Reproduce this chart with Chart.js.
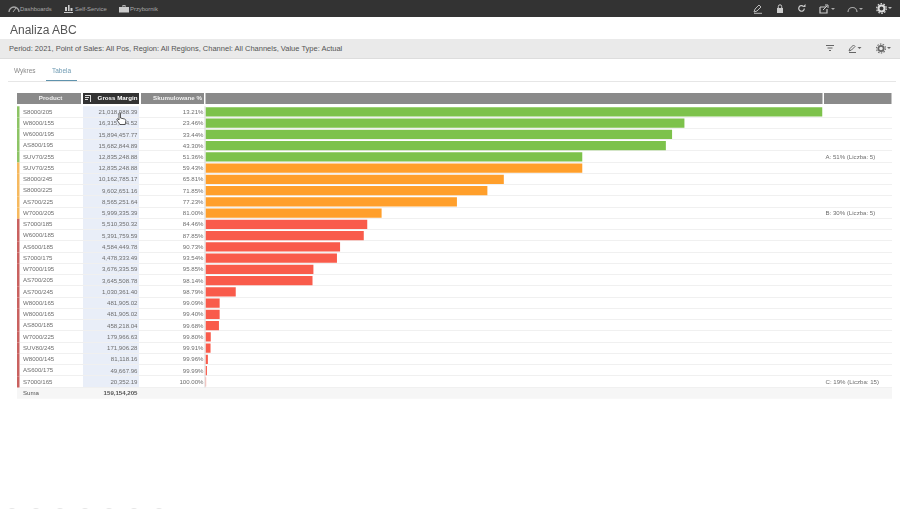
<!DOCTYPE html>
<html>
<head>
<meta charset="utf-8">
<title>Analiza ABC</title>
<script src="https://cdn.jsdelivr.net/npm/chart.js@4/dist/chart.umd.min.js"></script>
<style>
html, body { margin: 0; padding: 0; background: #fff; overflow: hidden; }
body { width: 900px; height: 509px; position: relative; font-family: "Liberation Sans", Arial, sans-serif; color: #666; filter: blur(0.3px); }
.abs { position: absolute; white-space: nowrap; }
#nav { left: 0; top: 0; width: 900px; height: 17px; background: #333; }
#nav span { position: absolute; top: 4.5px; font-size: 5.9px; line-height: 8px; color: #a8a8a8; }
#nav svg, #bar svg { position: absolute; }
#title { left: 10px; top: 22.5px; font-size: 12px; line-height: 14px; color: #555; }
#bar { left: 0; top: 39px; width: 900px; height: 19px; background: #eaeaea; border-bottom: 1px solid #ddd; }
#bar span { position: absolute; left: 9px; top: 4px; font-size: 7.5px; line-height: 11px; color: #555; }
#tabs { left: 8px; top: 81px; width: 888px; height: 1px; background: #e6e6e6; }
.tab { top: 66px; font-size: 6.5px; line-height: 9px; color: #888; }
#tabline { left: 46px; top: 80px; width: 31px; height: 1px; background: #5f93ad; }
#dots { left: 0; top: 0; }
canvas { position: absolute; left: 0; top: 0; }
</style>
</head>
<body>
<canvas id="abc" width="900" height="509"></canvas>

<div class="abs" id="nav">
	<svg style="left:8px;top:5px" width="12" height="8" viewBox="0 0 12 8"><path d="M1 7a5 5 0 0 1 10 0" fill="none" stroke="#aaa" stroke-width="1.3"/><path d="M5 7l3-4" stroke="#aaa"/></svg>
	<span style="left:20px">Dashboards</span>
	<svg style="left:64px;top:4px" width="9" height="9" viewBox="0 0 9 9"><path d="M1 3h2v4H1zM4 1h1.600v6H4zM6.500 4h2v3h-2zM0 8h9v1H0z" fill="#ccc"/></svg>
	<span style="left:75px">Self-Service</span>
	<svg style="left:119px;top:4px" width="10" height="9" viewBox="0 0 10 9"><path d="M0 3h10v5.500H0zM3.500 1h3v2h-.8V1.800H4.300V3h-.8z" fill="#ccc"/></svg>
	<span style="left:130px">Przybornik</span>
	<svg style="left:753px;top:4px" width="10" height="10" viewBox="0 0 10 10"><path d="M1 8l1-3 4-4 2 2-4 4zM1 9.300h8" fill="none" stroke="#bbb"/></svg>
	<svg style="left:776px;top:4px" width="8" height="9" viewBox="0 0 8 9"><path d="M1 4h6v5H1z" fill="#ccc"/><path d="M2.300 4V2.500a1.700 1.700 0 0 1 3.400 0V4" fill="none" stroke="#ccc"/></svg>
	<svg style="left:797px;top:4px" width="9" height="9" viewBox="0 0 9 9"><path d="M7.300 4.500a2.800 2.800 0 1 1-.9-2.100" fill="none" stroke="#ccc" stroke-width="1.200"/><path d="M5.500 3h3V0z" fill="#ccc"/></svg>
	<svg style="left:819px;top:4px" width="16" height="10" viewBox="0 0 16 10"><path d="M1 3h6M1 3v6h7V5" fill="none" stroke="#ccc" stroke-width="1.200"/><path d="M4 6l4-4M6 1h3v3" fill="none" stroke="#ccc"/><path d="M12 4h4l-2 2z" fill="#aaa"/></svg>
	<svg style="left:847px;top:5px" width="16" height="8" viewBox="0 0 16 8"><path d="M1 7a4.500 4.500 0 0 1 9 0" fill="none" stroke="#aaa" stroke-width="1.200"/><path d="M12 3h4l-2 2z" fill="#aaa"/></svg>
	<svg style="left:876px;top:3px" width="16" height="11" viewBox="0 0 16 11"><circle cx="5.500" cy="5.500" r="3" fill="none" stroke="#ddd" stroke-width="2"/><circle cx="5.500" cy="5.500" r="4.800" fill="none" stroke="#ddd" stroke-width="1.200" stroke-dasharray="1.600 1.400"/><path d="M12 4h4l-2 2z" fill="#bbb"/></svg>
</div>

<div class="abs" id="title">Analiza ABC</div>

<div class="abs" id="bar">
	<span>Period: 2021, Point of Sales: All Pos, Region: All Regions, Channel: All Channels, Value Type: Actual</span>
	<svg style="left:826px;top:6px" width="8" height="7" viewBox="0 0 8 7"><path d="M0 .5h8M1.500 3h5M3 5.500h2" stroke="#666" fill="none"/></svg>
	<svg style="left:848px;top:5px" width="14" height="9" viewBox="0 0 14 9"><path d="M1 7l1-2.500L5.500 1l1.500 1.500L3.500 6zM1 8.500h7" fill="none" stroke="#666"/><path d="M9.500 3h4l-2 2z" fill="#666"/></svg>
	<svg style="left:876px;top:4px" width="15" height="11" viewBox="0 0 15 11"><circle cx="5" cy="5.500" r="2.700" fill="none" stroke="#666" stroke-width="1.800"/><circle cx="5" cy="5.500" r="4.500" fill="none" stroke="#666" stroke-width="1.100" stroke-dasharray="1.500 1.300"/><path d="M11 4h4l-2 2z" fill="#666"/></svg>
</div>

<div class="abs tab" style="left:14px">Wykres</div>
<div class="abs tab" style="left:52px;color:#6f9bb3">Tabela</div>
<div class="abs" id="tabs"></div>
<div class="abs" id="tabline"></div>

<svg class="abs" style="left:116px;top:112px" width="11" height="14" viewBox="0 0 11 14"><path d="M3 1.500c0-1 1.500-1 1.500 0V6l4 1c1 .3 1.500 1 1.300 2l-.6 3.500H4L1 8c-.6-1 .6-1.800 1.300-1L3 8z" fill="#fff" stroke="#333" stroke-width=".8"/></svg>

<svg class="abs" id="dots" width="900" height="509"><g fill="#e6e6e6"><circle cx="12" cy="513" r="5"/><circle cx="36" cy="513" r="5"/><circle cx="60" cy="513" r="5"/><circle cx="85" cy="513" r="5"/><circle cx="109" cy="513" r="5"/><circle cx="134" cy="513" r="5"/><circle cx="159" cy="513" r="5"/></g></svg>

<script>
var products = ['S8000/205', 'W8000/155', 'W6000/195', 'AS800/195', 'SUV70/255', 'SUV70/255', 'S8000/245', 'S8000/225', 'AS700/225', 'W7000/205', 'S7000/185', 'W6000/185', 'AS600/185', 'S7000/175', 'W7000/195', 'AS700/205', 'AS700/245', 'W8000/165', 'W8000/165', 'AS800/185', 'W7000/225', 'SUV80/245', 'W8000/145', 'AS600/175', 'S7000/165']
var grossMargin = [21018988.39, 16315134.52, 15894457.77, 15682844.89, 12835248.88, 12835248.88, 10162785.17, 9602651.16, 8565251.64, 5999335.39, 5510350.32, 5391759.59, 4584449.78, 4478333.49, 3676335.59, 3645508.78, 1030361.40, 481905.02, 481905.02, 458218.04, 179966.63, 171906.28, 81118.16, 49667.96, 20352.19]
var marginLabels = ['21,018,988.39', '16,315,134.52', '15,894,457.77', '15,682,844.89', '12,835,248.88', '12,835,248.88', '10,162,785.17', '9,602,651.16', '8,565,251.64', '5,999,335.39', '5,510,350.32', '5,391,759.59', '4,584,449.78', '4,478,333.49', '3,676,335.59', '3,645,508.78', '1,030,361.40', '481,905.02', '481,905.02', '458,218.04', '179,966.63', '171,906.28', '81,118.16', '49,667.96', '20,352.19']
var cumulative = ['13.21%', '23.46%', '33.44%', '43.30%', '51.36%', '59.43%', '65.81%', '71.85%', '77.23%', '81.00%', '84.46%', '87.85%', '90.73%', '93.54%', '95.85%', '98.14%', '98.79%', '99.09%', '99.40%', '99.68%', '99.80%', '99.91%', '99.96%', '99.99%', '100.00%']
var abcClass = ['A', 'A', 'A', 'A', 'A', 'B', 'B', 'B', 'B', 'B', 'C', 'C', 'C', 'C', 'C', 'C', 'C', 'C', 'C', 'C', 'C', 'C', 'C', 'C', 'C']
var headers = ['Product', 'Gross Margin', 'Skumulowane %']
var sumLabel = 'Suma'
var sumValue = '159,154,205'
var classNotes = { 4: 'A: 51% (Liczba: 5)', 9: 'B: 30% (Liczba: 5)', 24: 'C: 19% (Liczba: 15)' }

var barColors = { A: '#7dc24b', B: '#ff9f2b', C: '#f95b4b' }
var stripColors = { A: '#8dc465', B: '#f6b95f', C: '#c9615f' }
var FONT = '"Liberation Sans", Arial, sans-serif'

// table around the bars, rows follow the y scale
var tablePlugin = {
	id: 'abcTable',
	beforeDatasetsDraw (chart) {
		var ctx = chart.ctx
		var y = chart.scales.y
		var rowH = y.getPixelForValue(1) - y.getPixelForValue(0)
		var top = y.getPixelForValue(0) - rowH / 2
		var bottom = top + rowH * products.length

		ctx.save()
		// Gross Margin column
		ctx.fillStyle = '#e9eef8'
		ctx.fillRect(83, top, 56, bottom - top)
		// Suma row
		ctx.fillStyle = '#f6f6f6'
		ctx.fillRect(17, bottom, 875, rowH)
		// header cells
		ctx.fillStyle = '#8a8a8a'
		ctx.fillRect(17, 93, 64, 11)
		ctx.fillRect(141, 93, 63, 11)
		ctx.fillRect(205.5, 93, 617, 11)
		ctx.fillRect(824, 93, 67.5, 11)
		ctx.fillStyle = '#333333'
		ctx.fillRect(83, 93, 56, 11)

		products.forEach((p, i) => {
			var yc = y.getPixelForValue(i)
			ctx.fillStyle = '#f0f0f0'
			ctx.fillRect(20, Math.round(yc + rowH / 2) - 1, 872, 1)
			ctx.fillStyle = stripColors[abcClass[i]]
			ctx.fillRect(17, yc - rowH / 2, 2.5, rowH)
		})
		ctx.fillStyle = '#d8d8d8'
		ctx.fillRect(204.5, top, 1, bottom - top)

		ctx.textBaseline = 'middle'
		ctx.font = 'bold 6.2px ' + FONT
		ctx.fillStyle = '#f2f2f2'
		ctx.textAlign = 'center'
		ctx.fillText(headers[0], 50.5, 98.5)
		ctx.fillText(headers[2], 177.5, 98.5)
		ctx.textAlign = 'right'
		ctx.fillStyle = '#ffffff'
		ctx.fillText(headers[1], 137.5, 98.5)
		// sort icon
		ctx.fillStyle = '#dddddd'
		ctx.fillRect(85, 95, 5, 1)
		ctx.fillRect(85, 97, 4, 1)
		ctx.fillRect(85, 99, 3, 1)
		ctx.fillRect(90, 95, 1, 7)

		ctx.font = '6.1px ' + FONT
		ctx.fillStyle = '#6e6e6e'
		products.forEach((p, i) => {
			var yc = y.getPixelForValue(i)
			ctx.textAlign = 'right'
			ctx.fillText(marginLabels[i], 137.5, yc + 0.4)
			ctx.fillText(cumulative[i], 203.5, yc + 0.4)
			if (classNotes[i]) {
				ctx.textAlign = 'left'
				ctx.fillText(classNotes[i], 825.5, yc + 0.4)
			}
		})
		ctx.textAlign = 'left'
		ctx.fillStyle = '#555555'
		ctx.fillText(sumLabel, 23, bottom + rowH / 2)
		ctx.textAlign = 'right'
		ctx.font = 'bold 6.1px ' + FONT
		ctx.fillText(sumValue, 137.5, bottom + rowH / 2)
		ctx.restore()
	}
}

new Chart(document.getElementById('abc'), {
	type: 'bar',
	data: {
		labels: products,
		datasets: [{
			data: grossMargin,
			backgroundColor: abcClass.map(c => barColors[c]),
			categoryPercentage: 1,
			barPercentage: 0.82
		}]
	},
	options: {
		indexAxis: 'y',
		responsive: false,
		animation: false,
		devicePixelRatio: 1,
		layout: { padding: { left: 23, top: 106.3, right: 77.5, bottom: 121.5 } },
		plugins: { legend: { display: false }, tooltip: { enabled: false } },
		scales: {
			x: { display: false, min: 0, max: 21018988.39 },
			y: {
				afterFit (scale) { scale.width = 182.5 },
				border: { display: false },
				grid: { display: false },
				ticks: {
					autoSkip: false,
					crossAlign: 'far',
					padding: 6,
					color: '#6e6e6e',
					font: { family: FONT, size: 6.1 }
				}
			}
		}
	},
	plugins: [tablePlugin]
})
</script>
</body>
</html>
